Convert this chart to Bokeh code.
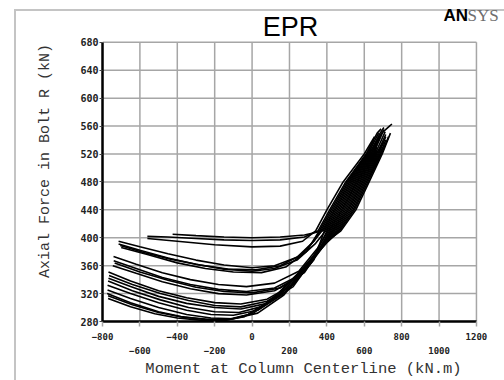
from bokeh.plotting import figure
from bokeh.models import FixedTicker, LinearAxis, Range1d, Label
from bokeh.embed import file_html
from bokeh.resources import INLINE

title_text = "EPR"
logo_a = "AN"
logo_b = "SYS"
x_label = "Moment at Column Centerline (kN.m)"
y_label = "Axial Force in Bolt R (kN)"

x_ticks_all = [-800, -600, -400, -200, 0, 200, 400, 600, 800, 1000, 1200]
x_ticks_row1 = [-800, -400, 0, 400, 800, 1200]
x_ticks_row2 = [-600, -200, 200, 600, 1000]
y_ticks = [280, 320, 360, 400, 440, 480, 520, 560, 600, 640, 680]

# moment (kN.m) / bolt force (kN) traces
c01_m = [-560, -450, -300, -150, 0, 150, 280, 353, 415, 501, 610, 669, 690]
c01_f = [402, 401, 399, 397, 396, 397, 401, 410, 440, 480, 520, 550, 556]
c02_m = [-425, -300, -150, 0, 150, 280, 380, 446, 529, 629, 685, 705]
c02_f = [405, 403, 401, 400, 401, 404, 410, 440, 480, 520, 550, 558]
c03_m = [-560, -400, -200, 0, 150, 270, 340, 400, 487, 600, 655]
c03_f = [399, 395, 390, 387, 388, 395, 410, 440, 480, 520, 545]
c04_m = [-714, -600, -450, -300, -150, 0, 120, 240, 330, 367, 431, 515, 619, 677]
c04_f = [395, 387, 377, 368, 361, 357, 360, 372, 395, 410, 440, 480, 520, 550]
c05_m = [-714, -600, -450, -300, -150, 0, 120, 240, 340, 394, 462, 543, 638, 693, 735, 748]
c05_f = [391, 382, 371, 362, 355, 352, 356, 368, 392, 410, 440, 480, 520, 550, 560, 563]
c06_m = [-700, -560, -400, -250, -100, 50, 180, 290, 360, 423, 508, 614, 650]
c06_f = [386, 376, 364, 356, 351, 350, 358, 380, 410, 440, 480, 520, 540]
c07_m = [-741, -620, -480, -330, -180, -30, 120, 250, 350, 408, 478, 557, 648, 705]
c07_f = [373, 362, 350, 340, 333, 330, 335, 352, 385, 410, 440, 480, 520, 555]
c08_m = [-740, -620, -480, -330, -180, -30, 120, 260, 360, 421, 493, 570, 658, 712]
c08_f = [367, 356, 343, 333, 326, 323, 328, 347, 383, 410, 440, 480, 520, 552]
c09_m = [-745, -620, -480, -330, -180, -30, 120, 260, 355, 401, 470, 550, 643, 670]
c09_f = [360, 349, 337, 327, 320, 318, 324, 346, 385, 410, 440, 480, 520, 535]
c10_m = [-768, -650, -500, -350, -200, -60, 80, 220, 340, 434, 509, 584, 667, 715]
c10_f = [351, 338, 324, 314, 307, 305, 312, 333, 375, 410, 440, 480, 520, 548]
c11_m = [-768, -650, -500, -350, -200, -60, 80, 220, 340, 414, 485, 563, 653, 668]
c11_f = [342, 330, 316, 306, 300, 298, 306, 330, 375, 410, 440, 480, 520, 530]
c12_m = [-773, -650, -500, -350, -220, -100, 30, 170, 300, 390, 448, 524, 598, 677, 715]
c12_f = [332, 320, 307, 296, 290, 289, 296, 320, 360, 395, 410, 440, 480, 520, 545]
c13_m = [-773, -650, -500, -350, -220, -100, 30, 170, 310, 400, 462, 540, 612, 686, 715]
c13_f = [325, 313, 300, 290, 285, 284, 292, 318, 362, 395, 410, 440, 480, 520, 540]
c14_m = [-775, -650, -500, -380, -250, -140, -20, 120, 270, 400, 475, 555, 626, 696, 740]
c14_f = [320, 307, 294, 287, 283, 282, 290, 314, 355, 395, 410, 440, 480, 520, 550]
c15_m = [-770, -650, -520, -400, -280, -160, -40, 100, 250, 380, 455, 532, 605, 682, 700]
c15_f = [313, 301, 291, 285, 282, 281, 287, 310, 350, 390, 410, 440, 480, 520, 530]
c16_m = [-735, -600, -450, -300, -150, 0, 150, 280, 380, 428, 501, 577, 662, 700]
c16_f = [364, 351, 339, 329, 323, 321, 328, 350, 390, 410, 440, 480, 520, 535]
c17_m = [-705, -580, -430, -280, -130, 20, 150, 260, 330, 374, 439, 522, 624, 680]
c17_f = [389, 379, 369, 361, 355, 354, 360, 375, 395, 410, 440, 480, 520, 545]
c18_m = [-770, -640, -490, -340, -200, -70, 60, 200, 330, 441, 516, 591, 672, 705]
c18_f = [338, 324, 311, 300, 294, 293, 302, 330, 372, 410, 440, 480, 520, 538]
c19_m = [-765, -640, -490, -340, -200, -60, 80, 220, 330, 387, 454, 536, 634, 690]
c19_f = [346, 333, 320, 310, 303, 301, 309, 333, 368, 410, 440, 480, 520, 548]
c20_m = [-770, -640, -500, -370, -240, -120, 0, 140, 290, 400, 468, 547, 619, 691, 730]
c20_f = [317, 304, 293, 286, 283, 283, 291, 316, 360, 393, 410, 440, 480, 520, 545]

xs = [c01_m, c02_m, c03_m, c04_m, c05_m, c06_m, c07_m, c08_m, c09_m, c10_m,
      c11_m, c12_m, c13_m, c14_m, c15_m, c16_m, c17_m, c18_m, c19_m, c20_m]
ys = [c01_f, c02_f, c03_f, c04_f, c05_f, c06_f, c07_f, c08_f, c09_f, c10_f,
      c11_f, c12_f, c13_f, c14_f, c15_f, c16_f, c17_f, c18_f, c19_f, c20_f]

GRID = "#a6a6a6"
BORDER = "#c4c4c4"

# frame spans the top/right margin so the title and logo can sit inside it
p = figure(width=504, height=380, output_backend="svg", toolbar_location=None,
           title=None,
           x_range=Range1d(-800, 1350), y_range=Range1d(280, 740),
           min_border=0, min_border_left=102, min_border_bottom=57)
p.background_fill_color = None
p.border_fill_color = None
p.outline_line_color = None
p.grid.grid_line_color = None
p.styles = {
    "background-color": "white",
    "background-image": f"linear-gradient({BORDER}, {BORDER}), linear-gradient({BORDER}, {BORDER})",
    "background-size": "2px 100%, 100% 2px",
    "background-position": "14px 9px, 14px 9px",
    "background-repeat": "no-repeat",
}

# grid lines drawn from the tick lists, limited to the plotting box
n_x = len(x_ticks_all)
n_y = len(y_ticks)
p.segment(x0=x_ticks_all, y0=[y_ticks[0]] * n_x, x1=x_ticks_all, y1=[y_ticks[-1]] * n_x,
          line_color=GRID, line_width=1.5)
p.segment(x0=[x_ticks_all[0]] * n_y, y0=y_ticks, x1=[x_ticks_all[-1]] * n_y, y1=y_ticks,
          line_color=GRID, line_width=1.5)

# bottom axis row 1
xa = p.xaxis[0]
xa.bounds = (x_ticks_all[0], x_ticks_all[-1])
xa.ticker = FixedTicker(ticks=x_ticks_all)
xa.major_label_overrides = {t: "" for t in x_ticks_row2}
xa.axis_line_color = "black"
xa.axis_line_width = 2.5
xa.major_tick_out = 5
xa.major_tick_in = 0
xa.major_tick_line_color = GRID
xa.major_tick_line_width = 1.5
xa.minor_tick_line_color = None
xa.major_label_standoff = 6
xa.major_label_text_font = "DejaVu Sans Mono"
xa.major_label_text_font_style = "bold"
xa.major_label_text_font_size = "9px"
xa.major_label_text_color = "#222222"

# bottom axis row 2
xb = LinearAxis(ticker=FixedTicker(ticks=x_ticks_row2),
                bounds=(x_ticks_all[0], x_ticks_all[-1]))
xb.axis_line_color = None
xb.major_tick_line_color = None
xb.minor_tick_line_color = None
xb.major_tick_out = 0
xb.major_tick_in = 0
xb.major_label_standoff = 4
xb.major_label_text_font = "DejaVu Sans Mono"
xb.major_label_text_font_style = "bold"
xb.major_label_text_font_size = "9px"
xb.major_label_text_color = "#222222"
xb.axis_label = x_label
xb.axis_label_standoff = 3
xb.axis_label_text_font = "Liberation Mono"
xb.axis_label_text_font_style = "normal"
xb.axis_label_text_font_size = "15.5px"
xb.axis_label_text_color = "#333333"
p.add_layout(xb, "below")

# left axis
ya = p.yaxis[0]
ya.bounds = (y_ticks[0], y_ticks[-1])
ya.ticker = FixedTicker(ticks=y_ticks)
ya.axis_line_color = "black"
ya.axis_line_width = 2.5
ya.major_tick_out = 3
ya.major_tick_in = 0
ya.major_tick_line_color = "#444444"
ya.minor_tick_line_color = None
ya.major_label_standoff = 1
ya.major_label_text_font = "DejaVu Sans Mono"
ya.major_label_text_font_style = "bold"
ya.major_label_text_font_size = "10px"
ya.major_label_text_color = "#222222"
ya.axis_label = y_label
ya.axis_label_standoff = 23
ya.axis_label_text_font = "Liberation Mono"
ya.axis_label_text_font_style = "normal"
ya.axis_label_text_font_size = "15px"
ya.axis_label_text_color = "#333333"

# curves
p.multi_line(xs, ys, line_color="black", line_width=1.6)

# title and logo
p.add_layout(Label(x=205, y=702, text=title_text, text_align="center",
                   text_baseline="middle", text_font="Liberation Sans",
                   text_font_size="27px", text_color="black"))
p.add_layout(Label(x=1024, y=718, text=logo_a, text_align="left",
                   text_baseline="middle", text_font="Liberation Sans",
                   text_font_style="bold", text_font_size="17px",
                   text_color="black"))
p.add_layout(Label(x=1152, y=718, text=logo_b, text_align="left",
                   text_baseline="middle", text_font="Liberation Serif",
                   text_font_size="17px", text_color="#6e6e6e"))

open("out.html", "w").write(file_html(p, INLINE))
